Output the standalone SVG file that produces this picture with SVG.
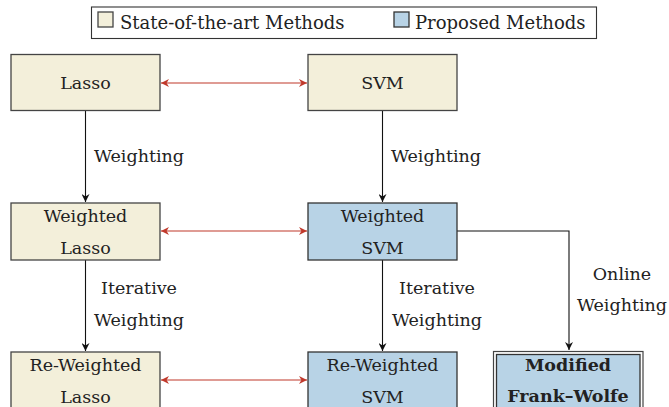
<svg xmlns="http://www.w3.org/2000/svg" width="669" height="407" viewBox="0 0 669 407">
<style>
text{font-family:"DejaVu Serif","Liberation Serif",serif;font-size:17.5px;fill:#222;text-anchor:middle}
.sa{fill:#f3efda;stroke:#444;stroke-width:1.3}
.pm{fill:#b8d3e6;stroke:#333;stroke-width:1.3}
.ln{fill:none;stroke:#111;stroke-width:1.1}
.rd{fill:none;stroke:#c0392b;stroke-width:1.1}
.lg{text-anchor:start;font-size:18px}
.b{font-weight:bold}
</style>
<defs>
<marker id="ah" viewBox="0 0 10 10" refX="10" refY="5" markerWidth="8" markerHeight="8" markerUnits="userSpaceOnUse" orient="auto"><path d="M0,0 L10,5 L0,10 L3,5 Z" fill="#111"/></marker>
<marker id="ar" viewBox="0 0 10 10" refX="10" refY="5" markerWidth="8" markerHeight="8" markerUnits="userSpaceOnUse" orient="auto-start-reverse"><path d="M0,0 L10,5 L0,10 L3,5 Z" fill="#c0392b"/></marker>
</defs>
<g id="legend">
<rect x="91.5" y="7" width="505" height="31.5" fill="#fff" stroke="#333" stroke-width="1.1"/>
<rect x="98" y="12" width="15" height="15" class="sa"/>
<text x="120" y="29" class="lg">State-of-the-art Methods</text>
<rect x="394" y="12" width="15" height="15" class="pm"/>
<text x="415" y="29" class="lg">Proposed Methods</text>
</g>
<g id="connectors">
<line x1="85.5" y1="110" x2="85.5" y2="202" class="ln" marker-end="url(#ah)"/>
<line x1="382.5" y1="110" x2="382.5" y2="202" class="ln" marker-end="url(#ah)"/>
<line x1="85.5" y1="260" x2="85.5" y2="351" class="ln" marker-end="url(#ah)"/>
<line x1="382.5" y1="260" x2="382.5" y2="351" class="ln" marker-end="url(#ah)"/>
<path d="M457,231 H569 V350" class="ln" marker-end="url(#ah)"/>
<line x1="161" y1="83" x2="307" y2="83" class="rd" marker-start="url(#ar)" marker-end="url(#ar)"/>
<line x1="161" y1="231" x2="307" y2="231" class="rd" marker-start="url(#ar)" marker-end="url(#ar)"/>
<line x1="161" y1="380" x2="307" y2="380" class="rd" marker-start="url(#ar)" marker-end="url(#ar)"/>
<text x="139" y="162">Weighting</text>
<text x="436" y="162">Weighting</text>
<text x="139" y="294">Iterative</text>
<text x="139" y="326">Weighting</text>
<text x="437" y="294">Iterative</text>
<text x="437" y="326">Weighting</text>
<text x="622" y="280">Online</text>
<text x="622" y="311">Weighting</text>
</g>
<g id="lasso">
<rect x="11" y="54.5" width="149" height="56" class="sa"/>
<text x="85.5" y="89">Lasso</text>
</g>
<g id="svm">
<rect x="308" y="54.5" width="149" height="56" class="sa"/>
<text x="382.5" y="89">SVM</text>
</g>
<g id="weighted-lasso">
<rect x="11" y="203" width="149" height="57" class="sa"/>
<text x="85.5" y="222">Weighted</text>
<text x="85.5" y="254">Lasso</text>
</g>
<g id="weighted-svm">
<rect x="308" y="203" width="149" height="57" class="pm"/>
<text x="382.5" y="222">Weighted</text>
<text x="382.5" y="254">SVM</text>
</g>
<g id="reweighted-lasso">
<rect x="11" y="352" width="149" height="70" class="sa"/>
<text x="85.5" y="371">Re-Weighted</text>
<text x="85.5" y="403">Lasso</text>
</g>
<g id="reweighted-svm">
<rect x="308" y="352" width="149" height="70" class="pm"/>
<text x="382.5" y="371">Re-Weighted</text>
<text x="382.5" y="403">SVM</text>
</g>
<g id="modified-fw">
<rect x="493.5" y="351.5" width="149.5" height="70" fill="#fff" stroke="#444" stroke-width="1.2"/>
<rect x="496.5" y="354.5" width="143.5" height="70" class="pm"/>
<text x="568" y="371" class="b">Modified</text>
<text x="568" y="402" class="b">Frank–Wolfe</text>
</g>
</svg>
